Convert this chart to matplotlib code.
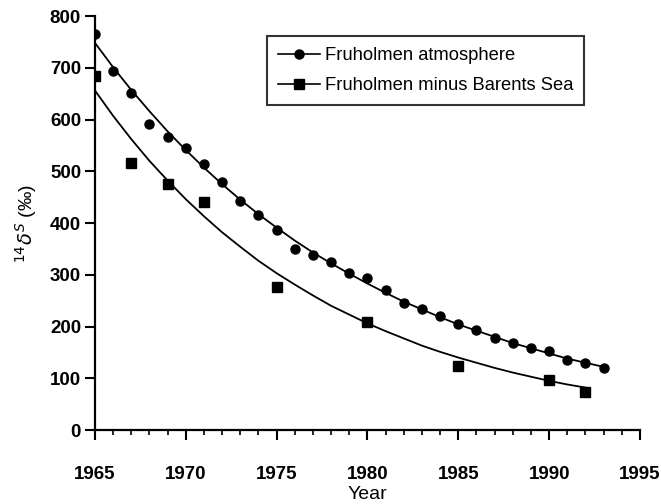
import numpy as np
import matplotlib
matplotlib.use("Agg")
import matplotlib.pyplot as plt
from matplotlib.lines import Line2D
from matplotlib.ticker import MultipleLocator

plt.rcParams['font.family'] = ['Liberation Sans', 'DejaVu Sans']

# measured points, Fruholmen atmosphere
atm_years = list(range(1965, 1994))
atm_vals = [765, 693, 651, 591, 567, 545, 515, 479, 443, 416, 387, 350, 338, 324,
            304, 293, 270, 246, 234, 221, 205, 193, 177, 169, 158, 153, 136, 130, 120]

# measured points, Fruholmen minus Barents Sea
sea_years = [1965, 1967, 1969, 1971, 1975, 1980, 1985, 1990, 1992]
sea_vals = [685, 516, 476, 440, 277, 209, 124, 97, 74]

# fitted curves
atm_fit_years = list(range(1965, 1994))
atm_fit_vals = [748, 701, 657, 616, 577, 541, 507, 475, 445, 417, 391, 366, 343, 322,
                302, 283, 265, 248, 233, 218, 204, 192, 180, 168, 158, 148, 138, 130, 122]
sea_fit_years = list(range(1965, 1993))
sea_fit_vals = [656, 607, 562, 520, 482, 446, 413, 382, 354, 327, 303, 281, 260, 240,
                223, 206, 191, 177, 163, 151, 140, 130, 120, 111, 103, 95, 88, 82]

labels = ["Fruholmen atmosphere", "Fruholmen minus Barents Sea"]

fig = plt.figure(figsize=(6.61, 5.04), dpi=100)
ax = fig.add_axes([0.1437, 0.1468, 0.8245, 0.8214])

ax.plot(atm_fit_years, atm_fit_vals, color='black', lw=1.3)
ax.plot(sea_fit_years, sea_fit_vals, color='black', lw=1.3)
ax.plot(atm_years, atm_vals, 'o', color='black', ms=6.5, ls='none')
ax.plot(sea_years, sea_vals, 's', color='black', ms=6.5, ls='none')

ax.set_xlim(1965, 1995)
ax.set_ylim(0, 800)
ax.xaxis.set_major_locator(MultipleLocator(5))
ax.xaxis.set_minor_locator(MultipleLocator(1))
ax.yaxis.set_major_locator(MultipleLocator(100))

for s in ['top', 'right']:
    ax.spines[s].set_visible(False)
for s in ['left', 'bottom']:
    ax.spines[s].set_linewidth(1.6)

ax.tick_params(axis='y', which='major', direction='out', length=7, width=1.5,
               labelsize=13.5, pad=3)
ax.tick_params(axis='x', which='major', direction='out', length=7, width=1.5,
               labelsize=13.5, pad=19)
ax.tick_params(axis='x', which='minor', direction='out', length=3.5, width=1.2)
for t in ax.get_xticklabels() + ax.get_yticklabels():
    t.set_fontweight('bold')

ax.set_xlabel("Year", fontsize=14, labelpad=2)
ax.set_ylabel(r"$^{14}\delta^{S}$ (‰)", fontsize=14, labelpad=8)

handles = [Line2D([], [], color='black', lw=1.2, marker='o', ms=6.5),
           Line2D([], [], color='black', lw=1.2, marker='s', ms=6.5)]
leg = ax.legend(handles, labels, loc='upper left', bbox_to_anchor=(0.316, 0.951),
                fontsize=13.2, frameon=True, fancybox=False, handlelength=2.3,
                handletextpad=0.25, borderpad=0.6, labelspacing=0.7,
                borderaxespad=0)
leg.get_frame().set_edgecolor('black')
leg.get_frame().set_linewidth(1.5)

fig.savefig("out.png", dpi=100)
